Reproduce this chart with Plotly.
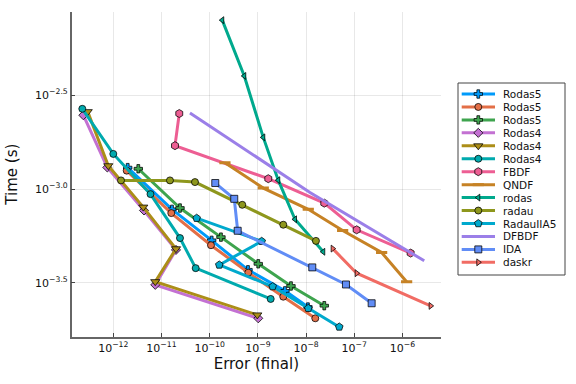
import numpy as np
import plotly.graph_objects as go

# ---- data, values given as log10 exponents ----
names = ["Rodas5", "Rodas5", "Rodas5", "Rodas4", "Rodas4", "Rodas4", "FBDF", "QNDF",
         "rodas", "radau", "RadauIIA5", "DFBDF", "IDA", "daskr"]

rodas5_1_err = [-11.701, -10.782, -9.959, -9.205, -8.438, -7.961]
rodas5_1_time = [-2.886, -3.108, -3.273, -3.430, -3.542, -3.628]
rodas5_2_err = [-11.722, -10.797, -9.973, -9.199, -8.473, -7.809]
rodas5_2_time = [-2.902, -3.128, -3.299, -3.445, -3.573, -3.688]
rodas5_3_err = [-11.481, -10.616, -9.766, -8.992, -8.313, -7.622]
rodas5_3_time = [-2.892, -3.101, -3.256, -3.398, -3.516, -3.621]
rodas4_1_err = [-12.622, -12.124, -11.363, -10.699, -11.129, -8.992]
rodas4_1_time = [-2.607, -2.885, -3.114, -3.324, -3.510, -3.688]
rodas4_2_err = [-12.531, -12.104, -11.378, -10.699, -11.129, -9.012]
rodas4_2_time = [-2.588, -2.876, -3.096, -3.318, -3.493, -3.670]
rodas4_3_err = [-12.643, -12.000, -11.228, -10.616, -10.290, -8.734]
rodas4_3_time = [-2.573, -2.813, -3.027, -3.261, -3.421, -3.585]
fbdf_err = [-10.631, -10.720, -8.784, -7.622, -6.950, -5.830]
fbdf_time = [-2.598, -2.769, -2.945, -3.075, -3.217, -3.341]
qndf_err = [-9.683, -8.888, -7.954, -7.241, -6.432, -5.913]
qndf_time = [-2.860, -2.995, -3.108, -3.221, -3.338, -3.493]
rodas_err = [-9.739, -9.282, -8.888, -8.577, -8.230, -7.643]
rodas_time = [-2.101, -2.398, -2.725, -2.953, -3.161, -3.334]
radau_err = [-11.840, -10.824, -10.305, -9.324, -8.473, -7.795]
radau_time = [-2.954, -2.954, -2.963, -3.084, -3.190, -3.276]
radauiia5_err = [-10.270, -8.921, -9.801, -8.693, -7.954, -7.311]
radauiia5_time = [-3.155, -3.278, -3.404, -3.519, -3.635, -3.734]
dfbdf_err = [-10.409, -9.371, -7.919, -5.548]
dfbdf_time = [-2.595, -2.773, -3.018, -3.382]
ida_err = [-9.884, -9.490, -9.419, -7.871, -7.172, -6.639]
ida_time = [-2.968, -3.052, -3.222, -3.417, -3.508, -3.608]
daskr_err = [-7.448, -6.950, -5.415]
daskr_time = [-3.317, -3.448, -3.622]

x_tick_exp = [-12, -11, -10, -9, -8, -7, -6]
x_tick_text = ["10<sup>−12</sup>", "10<sup>−11</sup>", "10<sup>−10</sup>", "10<sup>−9</sup>",
               "10<sup>−8</sup>", "10<sup>−7</sup>", "10<sup>−6</sup>"]
y_tick_exp = [-3.5, -3.0, -2.5]
y_tick_text = ["10<sup>−3.5</sup>", "10<sup>−3.0</sup>", "10<sup>−2.5</sup>"]

series_err = [rodas5_1_err, rodas5_2_err, rodas5_3_err, rodas4_1_err, rodas4_2_err, rodas4_3_err,
              fbdf_err, qndf_err, rodas_err, radau_err, radauiia5_err, dfbdf_err, ida_err, daskr_err]
series_time = [rodas5_1_time, rodas5_2_time, rodas5_3_time, rodas4_1_time, rodas4_2_time,
               rodas4_3_time, fbdf_time, qndf_time, rodas_time, radau_time, radauiia5_time,
               dfbdf_time, ida_time, daskr_time]

# ---- styles ----
colors = ["#009AFA", "#E36F47", "#3EA44E", "#C371D2", "#AC8E18", "#00AAAE", "#ED5E93",
          "#C68225", "#00A98D", "#8E971D", "#00A9CD", "#9B7FE8", "#618DF6", "#F16C64"]
symbols = ["cross", "circle", "cross", "diamond", "triangle-down", "circle", "hexagon",
           "line-ew", "triangle-left", "circle", "pentagon", None, "square", "triangle-right"]
sizes = [7, 7, 7, 7, 8, 7, 8, 8, 6, 7, 8, 0, 7, 6]

W, H = 576, 384
L, R, T, B = 71.7, 441.0, 11.7, 336.7
FONT = "DejaVu Sans"

fig = go.Figure()


def marker_for(i, size):
    if symbols[i] == "line-ew":
        return dict(symbol="line-ew", size=size, line=dict(color=colors[i], width=3))
    return dict(symbol=symbols[i], size=size, color=colors[i],
                line=dict(color="rgba(0,0,0,0.85)", width=0.9))


for i in range(len(names)):
    x = np.power(10.0, series_err[i])
    y = np.power(10.0, series_time[i])
    mode = "lines" if symbols[i] is None else "lines+markers"
    kw = {}
    if symbols[i] is not None:
        kw["marker"] = marker_for(i, sizes[i])
    fig.add_trace(go.Scatter(x=x, y=y, mode=mode, name=names[i], showlegend=False,
                             line=dict(color=colors[i], width=3), xaxis="x", yaxis="y", **kw))

# ---- custom legend drawn in a pixel-space overlay axis ----
leg_x0, leg_x1, leg_y0, leg_y1 = 458, 565, 83, 275
row0, row_gap = 94.0, 12.95
for i in range(len(names)):
    yc = row0 + i * row_gap
    fig.add_trace(go.Scatter(x=[461.7, 495.0], y=[yc, yc], mode="lines", showlegend=False,
                             hoverinfo="skip", line=dict(color=colors[i], width=3),
                             xaxis="x2", yaxis="y2"))
    if symbols[i] is not None:
        fig.add_trace(go.Scatter(x=[478.3], y=[yc], mode="markers", showlegend=False,
                                 hoverinfo="skip", marker=marker_for(i, sizes[i]),
                                 xaxis="x2", yaxis="y2"))
    fig.add_annotation(x=500.7, y=yc, xref="x2", yref="y2", text=names[i], showarrow=False,
                       xanchor="left", yanchor="middle",
                       font=dict(family=FONT, size=10.5, color="#111"))

fig.add_shape(type="rect", xref="x2", yref="y2", x0=leg_x0, x1=leg_x1, y0=leg_y0, y1=leg_y1,
              line=dict(color="#444", width=1), fillcolor="white", layer="below")

axis_common = dict(showline=True, linecolor="#666", linewidth=1.5, mirror=False,
                   ticks="inside", ticklen=4, tickcolor="#444", tickwidth=1,
                   showgrid=True, gridcolor="rgba(0,0,0,0.09)", gridwidth=0.6, zeroline=False,
                   tickfont=dict(family=FONT, size=11, color="#111"), automargin=False)

fig.update_layout(
    width=W, height=H,
    margin=dict(l=0, r=0, t=0, b=0),
    paper_bgcolor="white", plot_bgcolor="rgba(0,0,0,0)",
    font=dict(family=FONT),
    xaxis=dict(type="log", range=[-12.863, -5.20], domain=[L / W, R / W], anchor="y",
               tickvals=[10.0 ** e for e in x_tick_exp], ticktext=x_tick_text,
               title=dict(text="Error (final)", font=dict(family=FONT, size=15, color="#111"),
                          standoff=0),
               **axis_common),
    yaxis=dict(type="log", range=[-3.786, -2.056], domain=[1 - B / H, 1 - T / H], anchor="x",
               tickvals=[10.0 ** e for e in y_tick_exp], ticktext=y_tick_text,
               title=dict(text="Time (s)", font=dict(family=FONT, size=15, color="#111"),
                          standoff=14),
               **axis_common),
    xaxis2=dict(domain=[0, 1], range=[0, W], visible=False, anchor="y2", fixedrange=True),
    yaxis2=dict(domain=[0, 1], range=[H, 0], visible=False, anchor="x2", fixedrange=True),
)

fig.write_html("out.html", config={"displayModeBar": False},
               post_script="document.body.style.margin='0';document.body.style.padding='0';"
                           "document.body.style.overflow='hidden';")
